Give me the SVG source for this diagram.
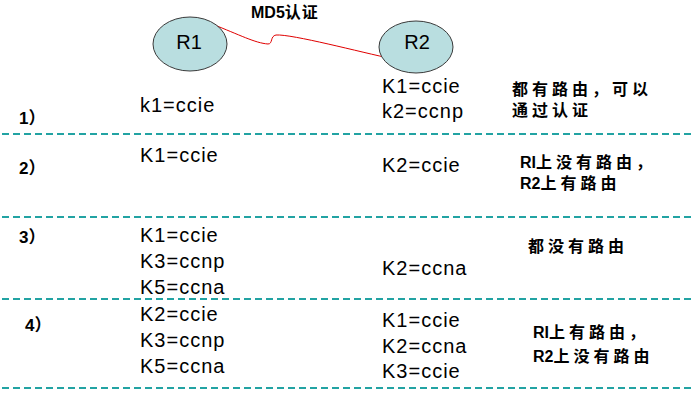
<svg xmlns="http://www.w3.org/2000/svg" width="693" height="416" viewBox="0 0 693 416">
<style>
.bg{fill:#ffffff}
.node{fill:#b9dee0;stroke:#3a3a3a;stroke-width:1}
.nl{font-family:"Liberation Sans",Arial,sans-serif;font-size:20px;fill:#000;text-anchor:middle}
.k{font-family:"Liberation Sans",Arial,sans-serif;font-size:20px;fill:#000;letter-spacing:1px}
.num{font-family:"Liberation Sans","Noto Sans CJK SC",sans-serif;font-size:17px;font-weight:bold;fill:#000}
.cn{font-family:"Liberation Sans","Noto Sans CJK SC",sans-serif;font-size:16px;font-weight:bold;fill:#000}
.sp{letter-spacing:4px}
.title{font-family:"Liberation Sans","Noto Sans CJK SC",sans-serif;font-size:16px;font-weight:bold;fill:#000}
.sep{stroke:#22a3a3;stroke-width:2;stroke-dasharray:7 4;fill:none}
.link{stroke:#e00000;stroke-width:1;fill:none}
</style>
<rect class="bg" x="0" y="0" width="693" height="416"/>
<g id="connectors">
<path class="link" d="M212,24 C240,35 255,43 268,44 C273,44 270,36 276,35 C292,34 360,52 393,59"/>
</g>
<g id="R1">
<ellipse class="node" cx="190" cy="44" rx="37" ry="27"/>
<text class="nl" x="189" y="49">R1</text>
</g>
<g id="R2">
<ellipse class="node" cx="416" cy="47" rx="37" ry="26"/>
<text class="nl" x="417" y="49">R2</text>
</g>
<text class="title" x="251" y="18">MD5<tspan letter-spacing="1px">认证</tspan></text>
<g id="separators">
<line class="sep" x1="2" y1="134" x2="693" y2="134"/>
<line class="sep" x1="2" y1="217" x2="693" y2="217"/>
<line class="sep" x1="2" y1="299" x2="693" y2="299"/>
<line class="sep" x1="2" y1="388" x2="693" y2="388"/>
</g>
<g id="row1">
<text class="num" x="19" y="124">1）</text>
<text class="k" x="140" y="112">k1=ccie</text>
<text class="k" x="382" y="93">K1=ccie</text>
<text class="k" x="382" y="118">k2=ccnp</text>
<text class="cn sp" x="512" y="95">都有路由，可以</text>
<text class="cn sp" x="512" y="116">通过认证</text>
</g>
<g id="row2">
<text class="num" x="19" y="174">2）</text>
<text class="k" x="140" y="162">K1=ccie</text>
<text class="k" x="382" y="172">K2=ccie</text>
<text class="cn" x="520" y="168">RI<tspan class="sp">上没有路由，</tspan></text>
<text class="cn" x="520" y="189">R2<tspan class="sp">上有路由</tspan></text>
</g>
<g id="row3">
<text class="num" x="19" y="243">3）</text>
<text class="k" x="140" y="242">K1=ccie</text>
<text class="k" x="140" y="268">K3=ccnp</text>
<text class="k" x="140" y="294">K5=ccna</text>
<text class="k" x="382" y="275">K2=ccna</text>
<text class="cn sp" x="528" y="252">都没有路由</text>
</g>
<g id="row4">
<text class="num" x="25" y="331">4）</text>
<text class="k" x="140" y="321">K2=ccie</text>
<text class="k" x="140" y="347">K3=ccnp</text>
<text class="k" x="140" y="373">K5=ccna</text>
<text class="k" x="382" y="327">K1=ccie</text>
<text class="k" x="382" y="353">K2=ccna</text>
<text class="k" x="382" y="378">K3=ccie</text>
<text class="cn" x="533" y="338">RI<tspan class="sp">上有路由，</tspan></text>
<text class="cn" x="533" y="362">R2<tspan class="sp">上没有路由</tspan></text>
</g>
</svg>
